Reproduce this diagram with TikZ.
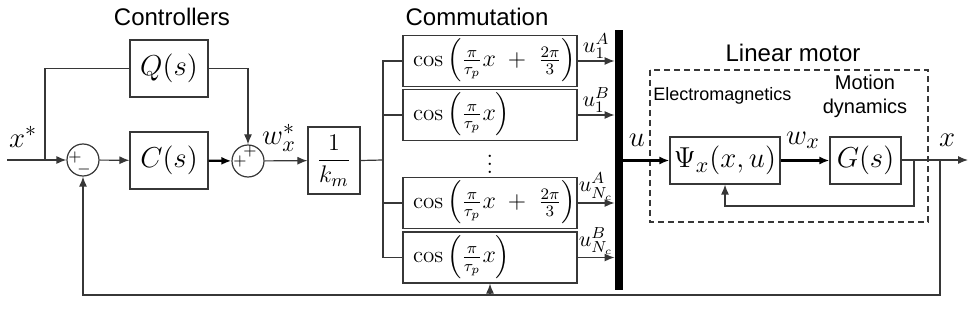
\documentclass[tikz,border=0pt]{standalone}
\usepackage{amsmath}
\usepackage{fontspec}
\setsansfont{Liberation Sans}
\usepackage{tikz}
\usetikzlibrary{arrows.meta}
\definecolor{edge}{RGB}{55,55,55}
\newcommand{\cosarg}[1]{\makebox[77pt][l]{$\cos\,\Bigl(#1\Bigr)$}}

\begin{document}
\begin{tikzpicture}[x=0.5pt, y=-0.5pt, >={Latex[length=5pt,width=4pt]},
    wire/.style={draw=edge, line width=0.6pt},
    bus/.style={draw=black, line width=1.4pt},
    block/.style={draw=edge, line width=0.6pt, inner sep=0pt, minimum height=23.5pt, font=\fontsize{15.5}{18}\selectfont},
    cosblock/.style={draw=edge, line width=0.6pt, inner xsep=5pt, inner ysep=0pt, text height=12pt, text depth=6.5pt, minimum height=25.5pt, font=\fontsize{11.5}{14}\selectfont},
    sumnode/.style={circle, draw=edge, line width=0.6pt, minimum size=16pt, inner sep=0pt},
    sign/.style={font=\fontsize{8}{9}\selectfont, inner sep=0pt},
    title/.style={font=\sffamily\fontsize{12}{14}\selectfont},
    sig/.style={font=\fontsize{15.5}{18}\selectfont, inner sep=0pt},
    phase/.style={font=\fontsize{11}{12}\selectfont, inner sep=1pt, above}]
    \useasboundingbox (0,0) rectangle (968,331);

    % Titles
    \node[title] (tctrl) at (172,17) {Controllers};
    \node[title] (tcomm) at (477,17) {Commutation};
    \node[title] (tmotor) at (793,53) {Linear motor};

    % Controllers
    \coordinate (in) at (7,160);
    \coordinate (split) at (45,160);
    \node[sumnode] (sum1) at (83,160) {};
    \node[sign] (s1a) at (75,158) {$+$};
    \node[sign] (s1b) at (84,170) {$-$};
    \node[block, minimum width=39pt, minimum height=28.5pt] (C) at (169,160.5) {$C(s)$};
    \node[block, minimum width=39pt, minimum height=28.5pt] (Q) at (169,68.5) {$Q(s)$};
    \node[sumnode] (sum2) at (248,161) {};
    \node[sign] (s2a) at (240,162) {$+$};
    \node[sign] (s2b) at (250,152) {$+$};
    \node[block, minimum width=26pt, minimum height=33.5pt, font=\fontsize{13}{15}\selectfont] (K) at (334,160.5) {$\displaystyle\frac{1}{k_m}$};
    \node[sig] (lxref) at (23,137) {$x^*$};
    \node[sig] (lwref) at (279,138) {$w_x^*$};

    \draw[wire, ->] (in) -- (sum1.west);
    \draw[wire] (split) |- (Q.west);
    \draw[wire, ->] (Q.east) -| (sum2.north);
    \draw[wire, ->] (sum1) -- (C);
    \draw[draw=black, line width=1.1pt, ->] (C) -- (sum2);
    \draw[wire, ->] (sum2) -- (K);

    % Commutation
    \coordinate (fan) at (383,160);
    \node[cosblock] (c1) at (490,61) {\cosarg{\frac{\pi}{\tau_p}x\;+\;\frac{2\pi}{3}}};
    \node[cosblock] (c2) at (490,115) {\cosarg{\frac{\pi}{\tau_p}x}};
    \node[font=\fontsize{12}{14}\selectfont, inner sep=0pt] (dots) at (490,158) {$\vdots$};
    \node[cosblock] (c3) at (490,203) {\cosarg{\frac{\pi}{\tau_p}x\;+\;\frac{2\pi}{3}}};
    \node[cosblock] (c4) at (490,257.5) {\cosarg{\frac{\pi}{\tau_p}x}};
    \node[fill=black, minimum width=4pt, minimum height=130pt, inner sep=0pt] (bar) at (619,160) {};

    \draw[wire] (K.east) -- (fan);
    \foreach \n in {c1,c2,c3,c4}
        \draw[wire] (fan) |- (\n.west);
    \draw[wire, ->] (c1.east) -- (c1.east -| bar.west) node[phase, midway] {$u_1^A$};
    \draw[wire, ->] (c2.east) -- (c2.east -| bar.west) node[phase, midway] {$u_1^B$};
    \draw[wire, ->] (c3.east) -- (c3.east -| bar.west) node[phase, midway] {$u_{N_c}^A$};
    \draw[wire, ->] (c4.east) -- (c4.east -| bar.west) node[phase, midway] {$u_{N_c}^B$};

    % Linear motor
    \draw[draw=edge, line width=0.6pt, dash pattern=on 3pt off 2pt] (650,70) rectangle (928,222);
    \node[font=\sffamily\fontsize{9}{11}\selectfont, anchor=west, inner sep=0pt] (tem) at (653,96) {Electromagnetics};
    \node[font=\sffamily\fontsize{10}{12}\selectfont, align=center, inner sep=0pt] (tdyn) at (865,96) {Motion\\dynamics};
    \node[block, minimum width=55pt] (Psi) at (725,160.5) {$\Psi_x(x,u)$};
    \node[block, minimum width=35.5pt] (G) at (865.5,160.5) {$G(s)$};
    \node[sig] (lu) at (637,140) {$u$};
    \node[sig] (lw) at (803,140) {$w_x$};
    \node[sig] (lx) at (947,140) {$x$};
    \coordinate (out) at (968,160);
    \coordinate (tap) at (914,160);
    \coordinate (inner) at (914,206);
    \coordinate (tap2) at (940,160);
    \coordinate (bottom) at (940,295);

    \draw[bus, ->] (bar.east |- Psi.west) -- (Psi.west);
    \draw[bus, ->] (Psi) -- (G);
    \draw[wire, ->] (G.east |- out) -- (out);
    \draw[wire, ->] (tap) -- (inner) -| (Psi.south);

    % Feedback
    \draw[wire, ->] (tap2) -- (bottom) -| (sum1.south);
    \draw[wire, ->] (c4.south |- bottom) -- (c4.south);
\end{tikzpicture}
\end{document}
